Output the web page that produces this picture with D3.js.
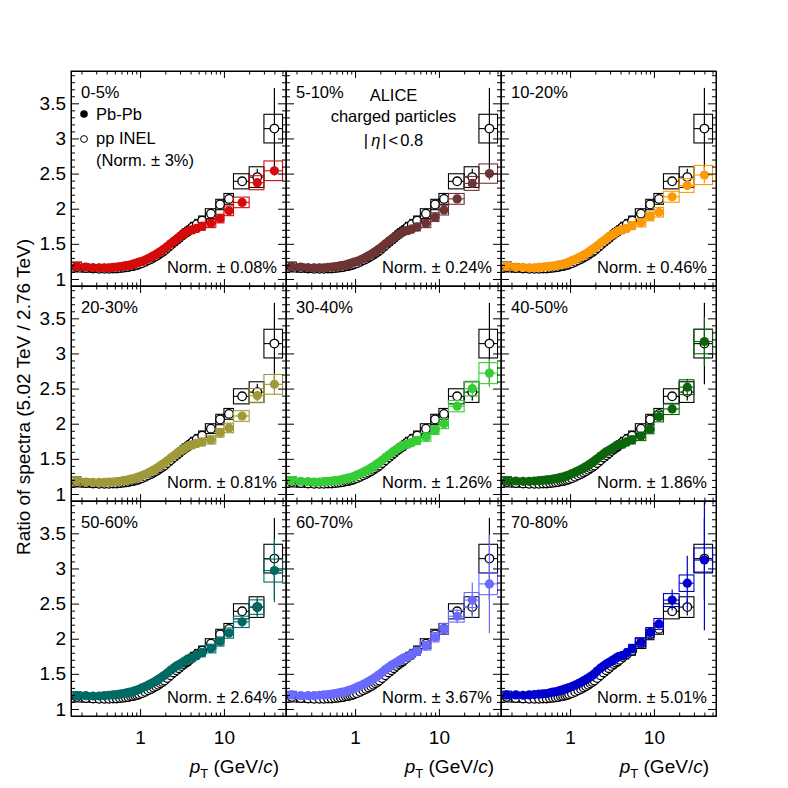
<!DOCTYPE html>
<html><head><meta charset="utf-8">
<script src="https://cdn.jsdelivr.net/npm/d3@7"></script>
<style>
body{margin:0;background:#fff}
text{font-family:"Liberation Sans",Arial,Helvetica,sans-serif}
</style>
</head><body>
<svg id="c" width="788" height="788"></svg>
<script>
// ---------------- DATA ----------------
const ptLow  = [0.15,0.2,0.25,0.3,0.35,0.4,0.45,0.5,0.55,0.6,0.65,0.7,0.75,0.8,0.85,0.9,0.95,
                1.0,1.1,1.2,1.3,1.4,1.5,1.6,1.7,1.8,1.9,
                2.0,2.2,2.4,2.6,2.8,3.0,3.2,3.4,3.6,3.8,
                4.0,4.5,5,6,8,10,13,20,30];
const ptHigh = [0.2,0.25,0.3,0.35,0.4,0.45,0.5,0.55,0.6,0.65,0.7,0.75,0.8,0.85,0.9,0.95,1.0,
                1.1,1.2,1.3,1.4,1.5,1.6,1.7,1.8,1.9,2.0,
                2.2,2.4,2.6,2.8,3.0,3.2,3.4,3.6,3.8,4.0,
                4.5,5,6,8,10,13,20,30,50];

const ppRatio = [1.17,1.155,1.15,1.145,1.145,1.145,1.15,1.15,1.155,1.16,1.165,1.17,1.18,1.185,1.19,1.20,1.21,
                 1.225,1.245,1.265,1.285,1.305,1.325,1.345,1.365,1.385,1.405,
                 1.44,1.48,1.52,1.55,1.58,1.61,1.64,1.66,1.68,1.70,
                 1.74,1.78,1.83,1.93,2.06,2.14,2.39,2.45,3.14];
const ppStatLast3 = [0.04,0.12,0.58];

const ppSysRel = [0.06,0.05,0.045,0.045,0.045,0.045,0.045,0.045,0.045,0.045,0.045,0.045,0.045,0.045,0.045,0.045,0.045,
                  0.045,0.045,0.045,0.045,0.045,0.045,0.045,0.045,0.045,0.045,
                  0.045,0.045,0.045,0.045,0.045,0.045,0.045,0.045,0.045,0.045,
                  0.038,0.038,0.036,0.036,0.036,0.036,0.045,0.06,0.065];
const aaSysRel = [0.045,0.035,0.032,0.03,0.03,0.03,0.03,0.03,0.03,0.03,0.03,0.03,0.03,0.03,0.03,0.03,0.03,
                  0.03,0.03,0.03,0.03,0.03,0.03,0.03,0.03,0.03,0.03,
                  0.03,0.03,0.03,0.03,0.03,0.03,0.03,0.03,0.03,0.03,
                  0.032,0.032,0.032,0.033,0.033,0.035,0.036,0.042,0.055];

const centralities = ["0-5%","5-10%","10-20%","20-30%","30-40%","40-50%","50-60%","60-70%","70-80%"];
const normUnc = ["0.08","0.24","0.46","0.81","1.26","1.86","2.64","3.67","5.01"];

const ratio_0_5 = [1.18,1.17,1.16,1.16,1.16,1.16,1.165,1.17,1.175,1.18,1.19,1.195,1.20,1.21,1.22,1.23,1.24,
  1.25,1.27,1.29,1.31,1.33,1.35,1.37,1.39,1.41,1.43,
  1.46,1.50,1.53,1.56,1.59,1.62,1.64,1.66,1.68,1.69,
  1.70,1.72,1.75,1.79,1.86,1.97,2.09,2.37,2.54];
const ratio_5_10 = [1.18,1.17,1.16,1.16,1.16,1.16,1.165,1.17,1.175,1.18,1.19,1.195,1.20,1.21,1.22,1.23,1.24,
  1.25,1.27,1.29,1.31,1.33,1.35,1.37,1.39,1.41,1.43,
  1.46,1.50,1.53,1.56,1.59,1.61,1.63,1.65,1.67,1.68,
  1.69,1.71,1.74,1.79,1.88,1.98,2.14,2.36,2.50];
const ratio_10_20 = [1.18,1.17,1.165,1.16,1.16,1.165,1.17,1.175,1.18,1.185,1.19,1.20,1.205,1.21,1.22,1.23,1.24,
  1.26,1.28,1.30,1.32,1.34,1.36,1.38,1.40,1.42,1.44,
  1.47,1.51,1.54,1.57,1.60,1.62,1.64,1.66,1.68,1.69,
  1.70,1.72,1.76,1.80,1.89,1.95,2.17,2.33,2.48];
const ratio_20_30 = [1.18,1.17,1.165,1.165,1.165,1.17,1.17,1.175,1.18,1.19,1.195,1.20,1.21,1.215,1.225,1.235,1.245,
  1.26,1.28,1.30,1.32,1.34,1.36,1.38,1.40,1.42,1.44,
  1.47,1.51,1.54,1.57,1.60,1.62,1.64,1.66,1.68,1.69,
  1.70,1.72,1.74,1.77,1.87,1.94,2.11,2.40,2.56];
const ratio_30_40 = [1.19,1.18,1.175,1.17,1.17,1.175,1.18,1.185,1.19,1.195,1.20,1.21,1.215,1.225,1.23,1.24,1.25,
  1.27,1.29,1.31,1.33,1.35,1.37,1.39,1.41,1.43,1.45,
  1.48,1.52,1.55,1.58,1.61,1.63,1.65,1.67,1.69,1.70,
  1.71,1.73,1.76,1.81,1.91,2.00,2.25,2.50,2.72];
const ratio_40_50 = [1.19,1.185,1.18,1.18,1.185,1.19,1.195,1.20,1.205,1.21,1.22,1.225,1.235,1.24,1.25,1.26,1.27,
  1.29,1.31,1.33,1.35,1.37,1.39,1.41,1.43,1.45,1.47,
  1.50,1.54,1.57,1.60,1.62,1.64,1.66,1.68,1.70,1.71,
  1.71,1.74,1.77,1.82,1.92,2.10,2.21,2.52,3.17];
const ratio_50_60 = [1.19,1.19,1.185,1.185,1.19,1.195,1.20,1.205,1.21,1.22,1.225,1.235,1.24,1.25,1.26,1.27,1.28,
  1.30,1.32,1.34,1.36,1.38,1.40,1.42,1.44,1.46,1.48,
  1.51,1.55,1.58,1.61,1.63,1.65,1.67,1.69,1.71,1.72,
  1.73,1.76,1.80,1.86,1.96,2.08,2.24,2.45,2.97];
const ratio_60_70 = [1.20,1.19,1.19,1.19,1.195,1.20,1.205,1.21,1.22,1.225,1.235,1.24,1.25,1.26,1.27,1.28,1.29,
  1.31,1.33,1.35,1.37,1.39,1.41,1.43,1.45,1.47,1.49,
  1.52,1.56,1.59,1.62,1.64,1.66,1.68,1.70,1.72,1.73,
  1.74,1.78,1.82,1.90,2.02,2.14,2.32,2.55,2.78];
const ratio_70_80 = [1.20,1.20,1.195,1.20,1.205,1.21,1.215,1.22,1.23,1.24,1.245,1.255,1.265,1.275,1.285,1.295,1.305,
  1.32,1.34,1.36,1.38,1.40,1.42,1.44,1.46,1.48,1.50,
  1.54,1.58,1.61,1.64,1.66,1.68,1.70,1.72,1.74,1.75,
  1.76,1.80,1.86,1.95,2.09,2.21,2.55,2.79,3.12];

const stat_0_5   = [0.02,0.04,0.07];
const stat_5_10  = [0.02,0.05,0.09];
const stat_10_20 = [0.03,0.06,0.12];
const stat_20_30 = [0.03,0.07,0.15];
const stat_30_40 = [0.04,0.09,0.20];
const stat_40_50 = [0.06,0.12,0.35];
const stat_50_60 = [0.07,0.15,0.45];
const stat_60_70 = [0.10,0.25,0.70];
const stat_70_80 = [0.15,0.39,1.00];

const aaRatios = [ratio_0_5,ratio_5_10,ratio_10_20,ratio_20_30,ratio_30_40,ratio_40_50,ratio_50_60,ratio_60_70,ratio_70_80];
const aaStats  = [stat_0_5,stat_5_10,stat_10_20,stat_20_30,stat_30_40,stat_40_50,stat_50_60,stat_60_70,stat_70_80];

// ---------------- STYLE ----------------
const colors = ["#d50a0a","#6e3434","#fb9a06","#9e9a3a","#36cc36","#0b660b","#006a64","#6a6aff","#0000cc"];
const FONT = '"Liberation Sans",Arial,Helvetica,sans-serif';
const L = 71, T = 71, PW = 215, PH = 215;

const svg = d3.select("#c");
svg.append("rect").attr("width",788).attr("height",788).attr("fill","#fff");

const x = d3.scaleLog().domain([0.15, 55]).range([0, PW]);
const y = d3.scaleLinear().domain([0.9, 3.96]).range([PH, 0]);

const nBins = ptLow.length;
const ctr = i => (ptLow[i] + ptHigh[i]) / 2;

function drawSeries(g, vals, sysRel, statLast3, color, open) {
  const idx = d3.range(nBins);
  g.append("g").selectAll("rect").data(idx).join("rect")
    .attr("x", i => x(ptLow[i]))
    .attr("width", i => x(ptHigh[i]) - x(ptLow[i]))
    .attr("y", i => y(vals[i] * (1 + sysRel[i])))
    .attr("height", i => y(vals[i] * (1 - sysRel[i])) - y(vals[i] * (1 + sysRel[i])))
    .attr("fill", "none").attr("stroke", color).attr("stroke-width", 1.1);
  g.append("g").selectAll("line").data(idx).join("line")
    .attr("x1", i => x(ptLow[i])).attr("x2", i => x(ptHigh[i]))
    .attr("y1", i => y(vals[i])).attr("y2", i => y(vals[i]))
    .attr("stroke", color).attr("stroke-width", 1.1);
  const sIdx = [nBins - 3, nBins - 2, nBins - 1];
  g.append("g").selectAll("line").data(sIdx).join("line")
    .attr("x1", i => x(ctr(i))).attr("x2", i => x(ctr(i)))
    .attr("y1", (i, k) => y(vals[i] + statLast3[k]))
    .attr("y2", (i, k) => y(vals[i] - statLast3[k]))
    .attr("stroke", color).attr("stroke-width", 1.2);
  g.append("g").selectAll("circle").data(idx).join("circle")
    .attr("cx", i => x(ctr(i))).attr("cy", i => y(vals[i]))
    .attr("r", open ? 4.3 : 4.6)
    .attr("fill", open ? "#fff" : color)
    .attr("stroke", open ? "#000" : "none")
    .attr("stroke-width", 1.3);
}

function styleAxis(a) {
  a.attr("font-family", FONT).attr("font-size", 19);
  a.selectAll("path,line").attr("stroke", "#000").attr("stroke-width", 1);
  a.selectAll("text").attr("fill", "#000");
}

const majorY = [1, 1.5, 2, 2.5, 3, 3.5];
const minorY = d3.range(10, 40).map(d => d / 10).filter(v => !majorY.includes(v));
const majorX = [1, 10];
const minorX = [0.2,0.3,0.4,0.5,0.6,0.7,0.8,0.9,2,3,4,5,6,7,8,9,20,30,40,50];

centralities.forEach((cent, p) => {
  const row = Math.floor(p / 3), col = p % 3;
  const g = svg.append("g").attr("transform", `translate(${L + col * PW},${T + row * PH})`);
  const cid = "clip" + p;
  g.append("clipPath").attr("id", cid).append("rect").attr("width", PW).attr("height", PH);
  const content = g.append("g").attr("clip-path", `url(#${cid})`);

  drawSeries(content, ppRatio, ppSysRel, ppStatLast3, "#000", true);
  drawSeries(content, aaRatios[p], aaSysRel, aaStats[p], colors[p], false);

  styleAxis(g.append("g").call(d3.axisLeft(y).tickValues(majorY).tickSize(-8).tickSizeOuter(0).tickPadding(5)
    .tickFormat(col === 0 ? d3.format("~g") : () => "")));
  styleAxis(g.append("g").call(d3.axisLeft(y).tickValues(minorY).tickSize(-4).tickSizeOuter(0).tickFormat(() => "")));
  styleAxis(g.append("g").attr("transform", `translate(${PW},0)`)
    .call(d3.axisRight(y).tickValues(majorY).tickSize(-8).tickSizeOuter(0).tickFormat(() => "")));
  styleAxis(g.append("g").attr("transform", `translate(${PW},0)`)
    .call(d3.axisRight(y).tickValues(minorY).tickSize(-4).tickSizeOuter(0).tickFormat(() => "")));
  styleAxis(g.append("g").attr("transform", `translate(0,${PH})`)
    .call(d3.axisBottom(x).tickValues(majorX).tickSize(-7).tickSizeOuter(0).tickPadding(15)
      .tickFormat(row === 2 ? d3.format("~g") : () => "")));
  styleAxis(g.append("g").attr("transform", `translate(0,${PH})`)
    .call(d3.axisBottom(x).tickValues(minorX).tickSize(-3.5).tickSizeOuter(0).tickFormat(() => "")));
  styleAxis(g.append("g").call(d3.axisTop(x).tickValues(majorX).tickSize(-7).tickSizeOuter(0).tickFormat(() => "")));
  styleAxis(g.append("g").call(d3.axisTop(x).tickValues(minorX).tickSize(-3.5).tickSizeOuter(0).tickFormat(() => "")));

  g.append("rect").attr("width", PW).attr("height", PH).attr("fill", "none").attr("stroke", "#000").attr("stroke-width", 1);

  g.append("text").attr("x", 10).attr("y", 27).attr("font-size", 16.5).text(cent);
  g.append("text").attr("x", PW - 9).attr("y", PH - 13).attr("font-size", 16.5).attr("text-anchor", "end")
    .text("Norm. \u00b1 " + normUnc[p] + "%");

  if (row === 2) {
    const t = g.append("text").attr("x", PW - 7).attr("y", 773 - 71 - 2 * PH).attr("font-size", 19).attr("text-anchor", "end");
    t.append("tspan").attr("font-style", "italic").text("p");
    t.append("tspan").attr("font-size", 13).attr("dy", 5).text("T");
    t.append("tspan").attr("dy", -5).text(" (GeV/");
    t.append("tspan").attr("font-style", "italic").text("c");
    t.append("tspan").text(")");
  }

  if (p === 0) {
    g.append("circle").attr("cx", 13).attr("cy", 43).attr("r", 3.8).attr("fill", "#000");
    g.append("text").attr("x", 25).attr("y", 49).attr("font-size", 16.5).text("Pb-Pb");
    g.append("circle").attr("cx", 13).attr("cy", 68).attr("r", 3.4).attr("fill", "#fff").attr("stroke", "#000").attr("stroke-width", 1);
    g.append("text").attr("x", 25).attr("y", 73).attr("font-size", 16.5).text("pp INEL");
    g.append("text").attr("x", 25).attr("y", 95).attr("font-size", 16.5).text("(Norm. \u00b1 3%)");
  }
  if (p === 1) {
    g.append("text").attr("x", PW / 2).attr("y", 30).attr("font-size", 16.5).attr("text-anchor", "middle").text("ALICE");
    g.append("text").attr("x", PW / 2).attr("y", 51).attr("font-size", 16.5).attr("text-anchor", "middle").text("charged particles");
    const e = g.append("text").attr("x", PW / 2).attr("y", 75).attr("font-size", 16.5).attr("text-anchor", "middle");
    e.append("tspan").text("|");
    e.append("tspan").attr("dx", 3).attr("font-style", "italic").text("\u03b7");
    e.append("tspan").attr("dx", 2).text("|");
    e.append("tspan").attr("dx", 2).text("<");
    e.append("tspan").attr("dx", 2).text("0.8");
  }
});

svg.append("text").attr("transform", "translate(30,397) rotate(-90)")
  .attr("text-anchor", "middle").attr("font-size", 19).attr("font-family", FONT)
  .text("Ratio of spectra (5.02 TeV / 2.76 TeV)");
</script>
</body></html>
